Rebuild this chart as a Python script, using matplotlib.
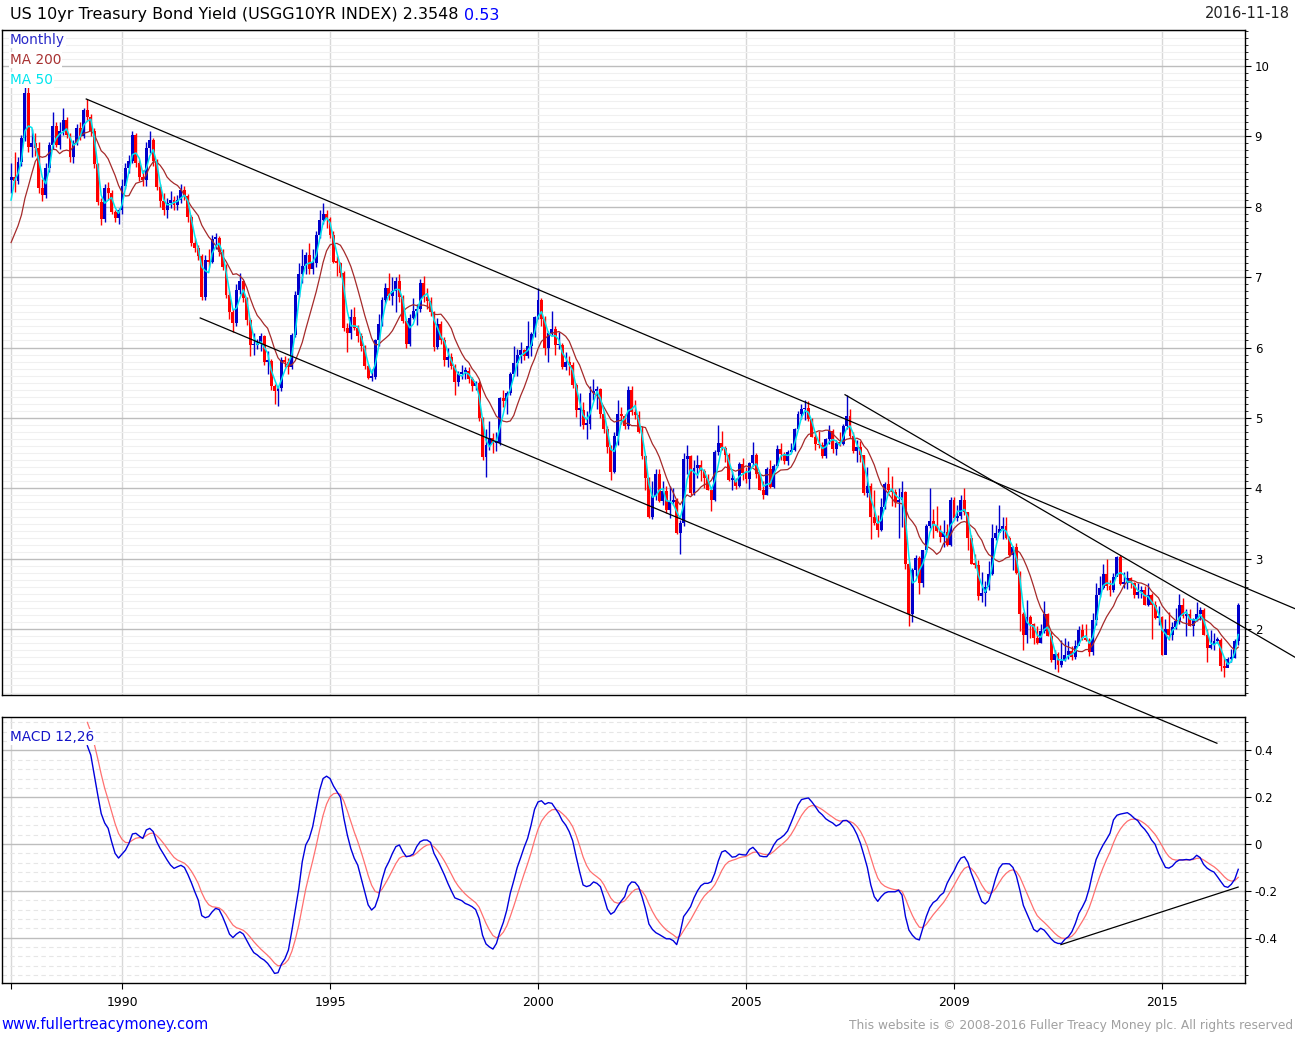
import matplotlib.pyplot as plt
from matplotlib.ticker import MultipleLocator
import numpy as np
import pandas as pd

# ------------------------ #
# DATA
# ------------------------ #

months = pd.period_range("1987-05", "2016-11", freq="M")

# month-end yield
close = [
    8.42, 8.36, 8.64, 8.97, 9.62, 8.85, 8.90, 8.83,                          # 1987
    8.26, 8.17, 8.55, 8.88, 9.15, 8.88, 9.07, 9.23, 9.02, 8.70, 8.90, 9.12,  # 1988
    9.00, 9.37, 9.28, 9.08, 8.60, 8.07, 7.82, 8.26, 8.20, 7.93, 7.84, 7.95,  # 1989
    8.30, 8.55, 8.65, 9.02, 8.62, 8.42, 8.38, 8.83, 8.95, 8.65, 8.28, 8.08,  # 1990
    7.95, 8.05, 8.10, 8.03, 8.10, 8.24, 8.15, 7.85, 7.48, 7.42, 7.30, 6.72,  # 1991
    7.25, 7.22, 7.54, 7.55, 7.35, 7.15, 6.75, 6.50, 6.35, 6.82, 6.94, 6.70,  # 1992
    6.39, 6.03, 6.03, 6.06, 6.16, 5.80, 5.81, 5.45, 5.38, 5.43, 5.82, 5.79,  # 1993
    5.73, 6.18, 6.75, 7.05, 7.16, 7.32, 7.12, 7.20, 7.60, 7.81, 7.90, 7.82,  # 1994
    7.60, 7.22, 7.20, 7.06, 6.28, 6.20, 6.44, 6.28, 6.17, 6.02, 5.74, 5.57,  # 1995
    5.58, 6.10, 6.33, 6.67, 6.85, 6.73, 6.80, 6.95, 6.72, 6.37, 6.05, 6.42,  # 1996
    6.52, 6.55, 6.92, 6.72, 6.66, 6.50, 6.01, 6.34, 6.10, 5.83, 5.87, 5.74,  # 1997
    5.51, 5.62, 5.65, 5.67, 5.55, 5.45, 5.49, 5.00, 4.44, 4.61, 4.72, 4.65,  # 1998
    4.65, 5.29, 5.24, 5.35, 5.62, 5.78, 5.90, 5.97, 5.88, 6.02, 6.19, 6.44,  # 1999
    6.68, 6.41, 6.00, 6.21, 6.27, 6.03, 6.03, 5.72, 5.80, 5.75, 5.47, 5.11,  # 2000
    5.11, 4.90, 4.92, 5.35, 5.38, 5.41, 5.05, 4.84, 4.59, 4.23, 4.75, 5.05,  # 2001
    5.03, 4.88, 5.40, 5.09, 5.04, 4.80, 4.46, 4.14, 3.59, 3.89, 4.21, 3.82,  # 2002
    3.96, 3.69, 3.80, 3.84, 3.37, 3.51, 4.41, 4.46, 3.94, 4.29, 4.33, 4.25,  # 2003
    4.14, 3.97, 3.84, 4.51, 4.65, 4.58, 4.48, 4.12, 4.12, 4.03, 4.35, 4.22,  # 2004
    4.13, 4.36, 4.48, 4.20, 3.98, 3.91, 4.28, 4.02, 4.32, 4.56, 4.49, 4.39,  # 2005
    4.52, 4.55, 4.85, 5.05, 5.12, 5.14, 4.98, 4.73, 4.63, 4.61, 4.46, 4.70,  # 2006
    4.82, 4.56, 4.64, 4.63, 4.89, 5.03, 4.74, 4.53, 4.59, 4.47, 3.94, 4.03,  # 2007
    3.59, 3.51, 3.41, 3.73, 4.06, 3.97, 3.95, 3.81, 3.83, 3.95, 2.92, 2.21,  # 2008
    2.84, 3.01, 2.66, 3.12, 3.46, 3.53, 3.48, 3.40, 3.31, 3.38, 3.20, 3.84,  # 2009
    3.58, 3.61, 3.83, 3.66, 3.29, 2.93, 2.91, 2.47, 2.51, 2.60, 2.79, 3.29,  # 2010
    3.37, 3.42, 3.47, 3.29, 3.05, 3.16, 2.80, 2.22, 1.92, 2.17, 2.07, 1.88,  # 2011
    1.80, 1.97, 2.21, 1.91, 1.56, 1.65, 1.49, 1.55, 1.63, 1.69, 1.61, 1.76,  # 2012
    1.99, 1.88, 1.85, 1.67, 2.13, 2.49, 2.58, 2.78, 2.61, 2.55, 2.74, 3.03,  # 2013
    2.64, 2.65, 2.72, 2.65, 2.48, 2.53, 2.56, 2.34, 2.49, 2.34, 2.16, 2.17,  # 2014
    1.64, 2.00, 1.92, 2.03, 2.12, 2.35, 2.18, 2.21, 2.04, 2.14, 2.21, 2.27,  # 2015
    1.92, 1.73, 1.77, 1.83, 1.85, 1.47, 1.45, 1.58, 1.59, 1.83, 2.35,        # 2016
]

high = [
    8.62, 8.78, 8.70, 9.02, 9.70, 9.72, 9.10, 9.05,
    8.92, 8.40, 8.62, 8.92, 9.35, 9.20, 9.20, 9.40, 9.28, 9.05, 8.95, 9.18,
    9.20, 9.40, 9.53, 9.32, 9.12, 8.62, 8.12, 8.32, 8.35, 8.24, 7.96, 7.98,
    8.40, 8.62, 8.74, 9.07, 9.05, 8.66, 8.52, 8.92, 9.08, 8.98, 8.68, 8.32,
    8.20, 8.12, 8.22, 8.15, 8.16, 8.32, 8.30, 8.18, 7.88, 7.55, 7.45, 7.33,
    7.32, 7.40, 7.60, 7.62, 7.58, 7.40, 7.18, 6.80, 6.55, 6.90, 7.06, 6.96,
    6.72, 6.42, 6.20, 6.12, 6.20, 6.18, 5.95, 5.84, 5.48, 5.45, 5.86, 5.88,
    5.85, 6.20, 6.80, 7.20, 7.40, 7.35, 7.48, 7.40, 7.65, 7.95, 8.05, 7.95,
    7.86, 7.65, 7.30, 7.22, 7.08, 6.35, 6.55, 6.58, 6.32, 6.20, 6.04, 5.76,
    5.70, 6.12, 6.48, 6.72, 6.92, 7.06, 7.00, 7.00, 7.05, 6.74, 6.40, 6.48,
    6.70, 6.62, 6.98, 7.02, 6.85, 6.72, 6.52, 6.42, 6.38, 6.15, 6.00, 5.92,
    5.76, 5.66, 5.75, 5.72, 5.72, 5.58, 5.52, 5.52, 5.02, 4.85, 4.95, 4.78,
    4.80, 5.30, 5.40, 5.38, 5.65, 6.02, 5.98, 6.08, 5.98, 6.38, 6.22, 6.45,
    6.84, 6.70, 6.45, 6.24, 6.52, 6.30, 6.22, 6.06, 5.93, 5.88, 5.79, 5.50,
    5.35, 5.22, 5.10, 5.45, 5.55, 5.46, 5.42, 5.08, 4.88, 4.62, 4.80, 5.26,
    5.16, 5.06, 5.45, 5.45, 5.25, 5.10, 4.88, 4.48, 4.16, 4.10, 4.28, 4.28,
    4.10, 4.04, 4.03, 4.00, 3.86, 3.55, 4.50, 4.61, 4.48, 4.40, 4.48, 4.40,
    4.27, 4.20, 4.02, 4.55, 4.90, 4.82, 4.60, 4.50, 4.25, 4.15, 4.37, 4.43,
    4.30, 4.38, 4.66, 4.50, 4.22, 4.10, 4.31, 4.40, 4.35, 4.61, 4.64, 4.52,
    4.55, 4.64, 4.86, 5.10, 5.20, 5.25, 5.24, 5.00, 4.80, 4.82, 4.66, 4.72,
    4.90, 4.85, 4.68, 4.80, 4.92, 5.33, 5.12, 4.80, 4.68, 4.67, 4.48, 4.30,
    4.07, 3.98, 3.62, 3.87, 4.09, 4.30, 4.18, 3.99, 4.00, 4.10, 3.96, 2.96,
    2.87, 3.05, 3.04, 3.13, 3.50, 4.00, 3.70, 3.75, 3.48, 3.55, 3.50, 3.88,
    3.88, 3.76, 3.90, 4.00, 3.66, 3.34, 3.07, 2.98, 2.81, 2.68, 2.97, 3.50,
    3.48, 3.77, 3.59, 3.59, 3.32, 3.18, 3.22, 2.82, 2.25, 2.42, 2.20, 2.09,
    2.05, 2.08, 2.40, 2.23, 1.98, 1.70, 1.68, 1.85, 1.88, 1.83, 1.76, 1.84,
    2.04, 2.08, 2.07, 1.88, 2.23, 2.66, 2.75, 2.93, 3.00, 2.70, 2.80, 3.04,
    3.05, 2.81, 2.82, 2.74, 2.67, 2.66, 2.62, 2.61, 2.65, 2.52, 2.40, 2.33,
    2.18, 2.15, 2.25, 2.10, 2.30, 2.50, 2.44, 2.28, 2.29, 2.16, 2.38, 2.32,
    2.30, 2.00, 1.99, 1.94, 1.89, 1.87, 1.60, 1.60, 1.72, 1.86, 2.37,
]

low = [
    8.20, 8.21, 8.32, 8.58, 8.93, 8.78, 8.70, 8.72,
    8.20, 8.08, 8.12, 8.50, 8.82, 8.85, 8.82, 9.02, 8.98, 8.64, 8.62, 8.88,
    8.95, 8.98, 9.22, 9.00, 8.55, 8.03, 7.74, 7.78, 8.10, 7.90, 7.78, 7.76,
    7.90, 8.25, 8.48, 8.62, 8.56, 8.37, 8.30, 8.30, 8.76, 8.58, 8.24, 8.00,
    7.88, 7.84, 7.98, 7.95, 7.96, 8.05, 8.10, 7.78, 7.44, 7.35, 7.24, 6.68,
    6.68, 7.15, 7.20, 7.40, 7.30, 7.10, 6.70, 6.40, 6.22, 6.30, 6.76, 6.65,
    6.32, 5.88, 5.90, 5.98, 5.95, 5.75, 5.62, 5.40, 5.20, 5.17, 5.38, 5.72,
    5.63, 5.70, 6.15, 6.72, 6.92, 7.05, 7.05, 7.05, 7.15, 7.55, 7.75, 7.70,
    7.55, 7.20, 7.02, 7.00, 6.24, 5.93, 6.12, 6.25, 6.08, 5.95, 5.70, 5.55,
    5.52, 5.56, 6.02, 6.30, 6.62, 6.68, 6.60, 6.50, 6.65, 6.35, 6.00, 6.02,
    6.40, 6.32, 6.50, 6.65, 6.55, 6.45, 5.95, 5.98, 6.05, 5.74, 5.72, 5.70,
    5.32, 5.45, 5.55, 5.56, 5.50, 5.38, 5.40, 4.95, 4.40, 4.16, 4.55, 4.50,
    4.53, 4.62, 5.15, 5.05, 5.32, 5.60, 5.60, 5.78, 5.82, 5.85, 5.88, 6.15,
    6.40, 6.30, 5.90, 5.80, 6.18, 5.90, 5.98, 5.70, 5.68, 5.61, 5.42, 5.02,
    4.88, 4.84, 4.70, 4.85, 5.25, 5.12, 5.00, 4.78, 4.50, 4.12, 4.22, 4.62,
    4.92, 4.84, 4.84, 5.04, 4.98, 4.78, 4.42, 3.98, 3.58, 3.56, 3.84, 3.80,
    3.76, 3.65, 3.58, 3.77, 3.35, 3.07, 3.47, 4.21, 3.90, 3.91, 4.15, 4.10,
    4.00, 3.97, 3.68, 3.82, 4.48, 4.55, 4.38, 4.10, 3.98, 3.99, 4.02, 4.12,
    4.08, 3.99, 4.32, 4.15, 3.97, 3.85, 3.90, 4.00, 4.00, 4.30, 4.40, 4.35,
    4.33, 4.50, 4.53, 4.84, 4.98, 4.97, 4.95, 4.73, 4.55, 4.57, 4.43, 4.43,
    4.63, 4.50, 4.48, 4.60, 4.62, 4.85, 4.72, 4.50, 4.37, 4.38, 3.90, 3.88,
    3.28, 3.48, 3.31, 3.40, 3.70, 3.90, 3.75, 3.74, 3.30, 3.45, 2.85, 2.05,
    2.10, 2.76, 2.50, 2.60, 3.10, 3.43, 3.30, 3.38, 3.24, 3.16, 3.18, 3.18,
    3.55, 3.53, 3.56, 3.62, 3.12, 2.92, 2.87, 2.42, 2.38, 2.33, 2.55, 2.77,
    3.27, 3.38, 3.28, 3.28, 3.04, 2.84, 2.78, 1.97, 1.70, 1.80, 1.87, 1.79,
    1.79, 1.80, 1.95, 1.90, 1.54, 1.44, 1.39, 1.46, 1.55, 1.58, 1.56, 1.58,
    1.81, 1.85, 1.83, 1.62, 1.63, 2.06, 2.45, 2.57, 2.55, 2.47, 2.53, 2.76,
    2.63, 2.58, 2.57, 2.59, 2.44, 2.44, 2.44, 2.34, 2.33, 1.86, 2.14, 2.06,
    1.64, 1.65, 1.85, 1.84, 2.00, 2.07, 2.16, 1.90, 2.04, 1.90, 2.12, 2.13,
    1.92, 1.53, 1.72, 1.71, 1.80, 1.40, 1.32, 1.50, 1.53, 1.59, 1.77,
]

first_open = 8.38

# Aug 1986 .. Apr 1987: only used so the averages start where the chart starts
prior_close = [7.17, 7.45, 7.43, 7.25, 7.11, 7.08, 7.14, 7.52, 8.34]

# MACD 12,26 line, monthly samples from Mar 1989
macd_start = "1989-03"
macd = [
    0.42,
    0.38, 0.295, 0.21, 0.13, 0.09, 0.067, 0.01,
    -0.04, -0.06, -0.043, -0.026, 0.003, 0.043, 0.046, 0.034, 0.024, 0.06,
    0.067, 0.053, 0.01, -0.019, -0.043, -0.068, -0.09, -0.104, -0.097, -0.091,
    -0.10, -0.13, -0.165, -0.204, -0.24, -0.306, -0.315, -0.31, -0.29, -0.275,
    -0.28, -0.31, -0.346, -0.385, -0.40, -0.385, -0.375, -0.385, -0.413, -0.44,
    -0.464, -0.474, -0.487, -0.496, -0.51, -0.53, -0.553, -0.55, -0.513, -0.49,
    -0.453, -0.37, -0.28, -0.19, -0.075, -0.004, 0.024, 0.074, 0.152, 0.23,
    0.28, 0.29, 0.28, 0.248, 0.224, 0.20, 0.11, 0.038, -0.019, -0.061,
    -0.09, -0.147, -0.204, -0.26, -0.282, -0.268, -0.225, -0.154, -0.104, -0.075,
    -0.04, -0.011, -0.004, -0.033, -0.054, -0.051, -0.043, -0.011, 0.01, 0.017,
    0.017, 0.007, -0.04, -0.068, -0.10, -0.132, -0.168, -0.20, -0.23, -0.236,
    -0.242, -0.254, -0.26, -0.268, -0.28, -0.318, -0.39, -0.427, -0.44, -0.449,
    -0.425, -0.375, -0.335, -0.282, -0.21, -0.157, -0.10, -0.058, -0.014, 0.024,
    0.081, 0.148, 0.18, 0.185, 0.17, 0.177, 0.174, 0.152, 0.13, 0.10,
    0.081, 0.053, 0.014, -0.054, -0.118, -0.175, -0.182, -0.177, -0.162, -0.168,
    -0.182, -0.228, -0.278, -0.30, -0.29, -0.265, -0.244, -0.225, -0.18, -0.162,
    -0.164, -0.182, -0.225, -0.278, -0.342, -0.365, -0.379, -0.387, -0.396, -0.405,
    -0.405, -0.413, -0.43, -0.379, -0.31, -0.29, -0.268, -0.23, -0.20, -0.178,
    -0.168, -0.168, -0.161, -0.125, -0.073, -0.034, -0.028, -0.041, -0.056, -0.054,
    -0.043, -0.046, -0.047, -0.023, -0.014, -0.03, -0.051, -0.054, -0.054, -0.034,
    -0.004, 0.017, 0.026, 0.038, 0.056, 0.091, 0.128, 0.167, 0.19, 0.194,
    0.197, 0.18, 0.16, 0.138, 0.125, 0.108, 0.098, 0.09, 0.077, 0.084,
    0.10, 0.101, 0.09, 0.07, 0.041, 0.003, -0.047, -0.10, -0.175, -0.225,
    -0.245, -0.225, -0.21, -0.204, -0.204, -0.204, -0.197, -0.218, -0.31, -0.368,
    -0.39, -0.405, -0.41, -0.36, -0.31, -0.272, -0.25, -0.24, -0.22, -0.208,
    -0.168, -0.14, -0.115, -0.083, -0.06, -0.054, -0.078, -0.125, -0.164, -0.208,
    -0.246, -0.256, -0.242, -0.20, -0.147, -0.104, -0.085, -0.084, -0.085, -0.10,
    -0.137, -0.197, -0.262, -0.296, -0.329, -0.365, -0.375, -0.36, -0.368, -0.386,
    -0.405, -0.419, -0.425, -0.425, -0.407, -0.396, -0.375, -0.34, -0.296, -0.27,
    -0.24, -0.19, -0.123, -0.066, -0.033, -0.004, 0.02, 0.046, 0.103, 0.123,
    0.128, 0.131, 0.134, 0.124, 0.11, 0.10, 0.078, 0.063, 0.043, 0.017,
    -0.001, -0.04, -0.071, -0.10, -0.103, -0.094, -0.077, -0.068, -0.068, -0.066,
    -0.068, -0.063, -0.048, -0.058, -0.087, -0.103, -0.113, -0.12, -0.14, -0.161,
    -0.181, -0.185, -0.172, -0.15, -0.108,
]
signal_start = 0.52  # signal line value where the panel begins

# hand drawn trend lines, (year, value) end points
price_trends = [
    ((1989.14, 9.53), (2018.20, 2.29)),
    ((1991.88, 6.42), (2016.32, 0.38)),
    ((2007.38, 5.33), (2018.20, 1.60)),
]
macd_trend = ((2012.57, -0.43), (2016.83, -0.184))

year_ticks = [1987.33, 1990, 1995, 2000, 2005, 2010, 2015]
year_labels = ["", "1990", "1995", "2000", "2005", "2009", "2015"]

# ------------------------ #
# PREP
# ------------------------ #

W, H = 1295, 1040
UP, DOWN = "#0000cc", "#ff0000"

x = months.year + (months.month - 1) / 12.0
c = np.array(close)
o = np.array([first_open] + close[:-1])
hi = np.array(high)
lo = np.array(low)

full = pd.Series(prior_close + close)
ma200 = full.rolling(10).mean().iloc[len(prior_close):].to_numpy()
ma50 = full.rolling(3).mean().iloc[len(prior_close):].to_numpy()

macd_months = pd.period_range(macd_start, periods=len(macd), freq="M")
mx = macd_months.year + (macd_months.month - 1) / 12.0
signal = pd.Series([signal_start] + macd[1:]).ewm(span=6, adjust=False).mean()


def fx(px):
    return px / W


def fy(py):
    return 1 - py / H


# ------------------------ #
# PLOTTING
# ------------------------ #

plt.rcParams["font.family"] = ["DejaVu Sans"]
fig = plt.figure(figsize=(W / 100, H / 100), dpi=100)

ax = fig.add_axes([fx(2), fy(695), (1245 - 2) / W, (695 - 30) / H])
axm = fig.add_axes([fx(2), fy(983), (1245 - 2) / W, (983 - 717) / H])
ax.set_zorder(3)
axm.set_zorder(2)
ax.patch.set_alpha(0)

# candles
up = c >= o
colors = np.where(up, UP, DOWN)
ax.vlines(x, lo, hi, colors=colors, lw=1.0, zorder=3)
ax.bar(x, np.maximum(np.abs(c - o), 0.025), bottom=np.minimum(o, c),
       width=0.07, color=colors, linewidth=0, zorder=4)

ax.plot(x, ma200, color="#a52a2a", lw=0.9, zorder=5)
ax.plot(x, ma50, color="#00e5ee", lw=1.1, zorder=6)

for (x0, y0), (x1, y1) in price_trends:
    ax.plot([x0, x1], [y0, y1], color="black", lw=0.9, clip_on=False, zorder=7)

# macd panel
axm.plot(mx, signal, color="#ff7070", lw=0.9, zorder=4)
axm.plot(mx, macd, color="#0000dd", lw=1.0, zorder=5)
axm.plot([macd_trend[0][0], macd_trend[1][0]], [macd_trend[0][1], macd_trend[1][1]],
         color="black", lw=0.9, zorder=6)

# cosmetics
for a in (ax, axm):
    a.set_xlim(1987.115, 2016.995)
    a.set_xticks(year_ticks)
    a.grid(axis="x", color="#d8d8d8", lw=1.0, zorder=0)
    a.yaxis.tick_right()
    for s in a.spines.values():
        s.set_color("black")
        s.set_linewidth(1.0)
    a.set_axisbelow(True)

ax.set_ylim(1.065, 10.51)
ax.yaxis.set_major_locator(MultipleLocator(1))
ax.yaxis.set_minor_locator(MultipleLocator(0.1))
ax.grid(axis="y", which="major", color="#bdbdbd", lw=1.0)
ax.grid(axis="y", which="minor", color="#f0f0f0", lw=0.8)
ax.tick_params(axis="y", which="major", length=4, width=0.8, labelsize=8.5, pad=3)
ax.tick_params(axis="y", which="minor", length=2, width=0.6)
ax.tick_params(axis="x", length=0, labelbottom=False)

axm.set_ylim(-0.594, 0.543)
axm.set_yticks([-0.4, -0.2, 0, 0.2, 0.4])
axm.set_yticklabels(["-0.4", "-0.2", "0", "0.2", "0.4"])
axm.yaxis.set_minor_locator(MultipleLocator(0.04))
axm.grid(axis="y", which="major", color="#bdbdbd", lw=1.0)
axm.grid(axis="y", which="minor", color="#e6e6e6", lw=0.8, ls=(0, (4, 3)))
axm.tick_params(axis="y", which="major", length=4, width=0.8, labelsize=8.5, pad=3)
axm.tick_params(axis="y", which="minor", length=2, width=0.6)
axm.set_xticklabels(year_labels, fontsize=9)
axm.tick_params(axis="x", length=4, width=0.8, pad=5)

# texts
t = fig.text(fx(10), fy(15), "US 10yr Treasury Bond Yield (USGG10YR INDEX) 2.3548 ",
             fontsize=11.5, va="center", ha="left", color="black")
fig.canvas.draw()
bb = t.get_window_extent()
fig.text(bb.x1 / W, fy(15), "0.53", fontsize=11.5, va="center", ha="left", color="#0000ff")
fig.text(fx(1290), fy(14), "2016-11-18", fontsize=10.5, va="center", ha="right", color="#222222")

box = dict(facecolor="white", edgecolor="none", pad=0.6)
fig.text(fx(10), fy(40), "Monthly", fontsize=9.8, va="center", color="#2828c8", bbox=box, zorder=10)
fig.text(fx(10), fy(60), "MA 200", fontsize=9.8, va="center", color="#a83232", bbox=box, zorder=10)
fig.text(fx(10), fy(80), "MA 50", fontsize=9.8, va="center", color="#00e5ee", bbox=box, zorder=10)
fig.text(fx(10), fy(737), "MACD 12,26", fontsize=9.8, va="center", color="#1414c8", bbox=box, zorder=10)

fig.text(fx(1), fy(1025), "www.fullertreacymoney.com", fontsize=10.5, va="center",
         color="#0000ff")
fig.text(fx(1293), fy(1025),
         "This website is \u00a9 2008-2016 Fuller Treacy Money plc. All rights reserved",
         fontsize=8.8, va="center", ha="right", color="#a0a0a0")

fig.savefig("out.png", dpi=100)
